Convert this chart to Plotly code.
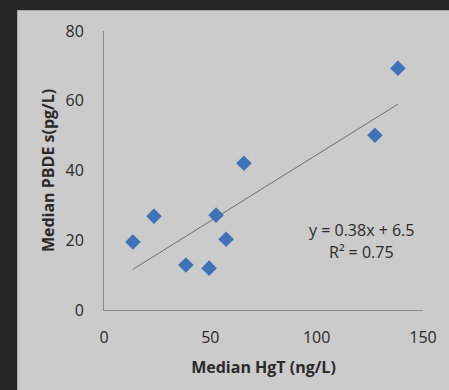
import plotly.graph_objects as go

# Data
hgt = [13.6, 23.5, 38.5, 49.4, 52.7, 57.4, 65.8, 127.4, 138.2]
pbde = [19.5, 26.9, 12.9, 12.0, 27.2, 20.3, 42.1, 50.1, 69.3]
trend_slope = 0.38
trend_intercept = 6.5
r_squared = 0.75
x_ticks = [0, 50, 100, 150]
y_ticks = [0, 20, 40, 60, 80]

W, H = 449, 390
ML, MR, MT, MB = 104, 26, 31, 80
pw = W - ML - MR
ph = H - MT - MB

def px_to_paper_x(px):
    return (px - ML) / pw

def px_to_paper_y(py):
    return (H - MB - py) / ph

x0, x1 = min(hgt), max(hgt)
trend_x = [x0, x1]
trend_y = [trend_slope * v + trend_intercept for v in trend_x]

fig = go.Figure()
fig.add_trace(go.Scatter(
    x=trend_x, y=trend_y, mode="lines",
    line=dict(color="#6e6e6e", width=1), hoverinfo="skip", showlegend=False))
fig.add_trace(go.Scatter(
    x=hgt, y=pbde, mode="markers",
    marker=dict(symbol="diamond", size=12, color="#3f72b6"),
    showlegend=False))

font_family = "Open Sans, Liberation Sans, sans-serif"

fig.update_layout(
    width=W, height=H,
    margin=dict(l=ML, r=MR, t=MT, b=MB, pad=0),
    paper_bgcolor="#cbcbcb", plot_bgcolor="#cbcbcb",
    font=dict(family=font_family, size=16, color="#2a2a2a"),
    xaxis=dict(range=[0, 150], tickvals=x_ticks, showgrid=False, zeroline=False,
               showline=True, linecolor="#8a8a8a", linewidth=1, ticks="",
               ticklabelstandoff=13,
               title=dict(text="<b>Median HgT (ng/L)</b>", font=dict(size=16), standoff=14)),
    yaxis=dict(range=[0, 80], tickvals=y_ticks, showgrid=False, zeroline=False,
               showline=True, linecolor="#8a8a8a", linewidth=1, ticks="",
               ticklabelstandoff=16,
               title=dict(text="<b>Median PBDE s(pg/L)</b>", font=dict(size=16), standoff=6)),
    shapes=[
        dict(type="rect", xref="paper", yref="paper", layer="below",
             x0=px_to_paper_x(0), x1=px_to_paper_x(17),
             y0=px_to_paper_y(H), y1=px_to_paper_y(0),
             fillcolor="#262626", line=dict(width=0)),
        dict(type="rect", xref="paper", yref="paper", layer="below",
             x0=px_to_paper_x(0), x1=px_to_paper_x(W),
             y0=px_to_paper_y(10), y1=px_to_paper_y(0),
             fillcolor="#262626", line=dict(width=0)),
        dict(type="line", xref="paper", yref="paper", layer="below",
             x0=px_to_paper_x(17.5), x1=px_to_paper_x(W),
             y0=px_to_paper_y(10.5), y1=px_to_paper_y(10.5),
             line=dict(color="#a8a8a8", width=1)),
        dict(type="line", xref="paper", yref="paper", layer="below",
             x0=px_to_paper_x(17.5), x1=px_to_paper_x(17.5),
             y0=px_to_paper_y(10.5), y1=px_to_paper_y(H),
             line=dict(color="#a8a8a8", width=1)),
    ],
    annotations=[
        dict(x=121, y=23, xref="x", yref="y", showarrow=False,
             text="y = 0.38x + 6.5", font=dict(size=16)),
        dict(x=121, y=16.5, xref="x", yref="y", showarrow=False,
             text="R² = 0.75", font=dict(size=16)),
    ],
)

fig.write_html(
    "out.html",
    config={"displayModeBar": False},
    post_script=(
        "document.documentElement.style.margin='0';"
        "document.documentElement.style.padding='0';"
        "document.documentElement.style.overflow='hidden';"
        "document.documentElement.style.background='#cbcbcb';"
        "document.body.style.margin='0';"
        "document.body.style.padding='0';"
        "document.body.style.overflow='hidden';"
        "document.body.style.background='#cbcbcb';"
    ),
)
